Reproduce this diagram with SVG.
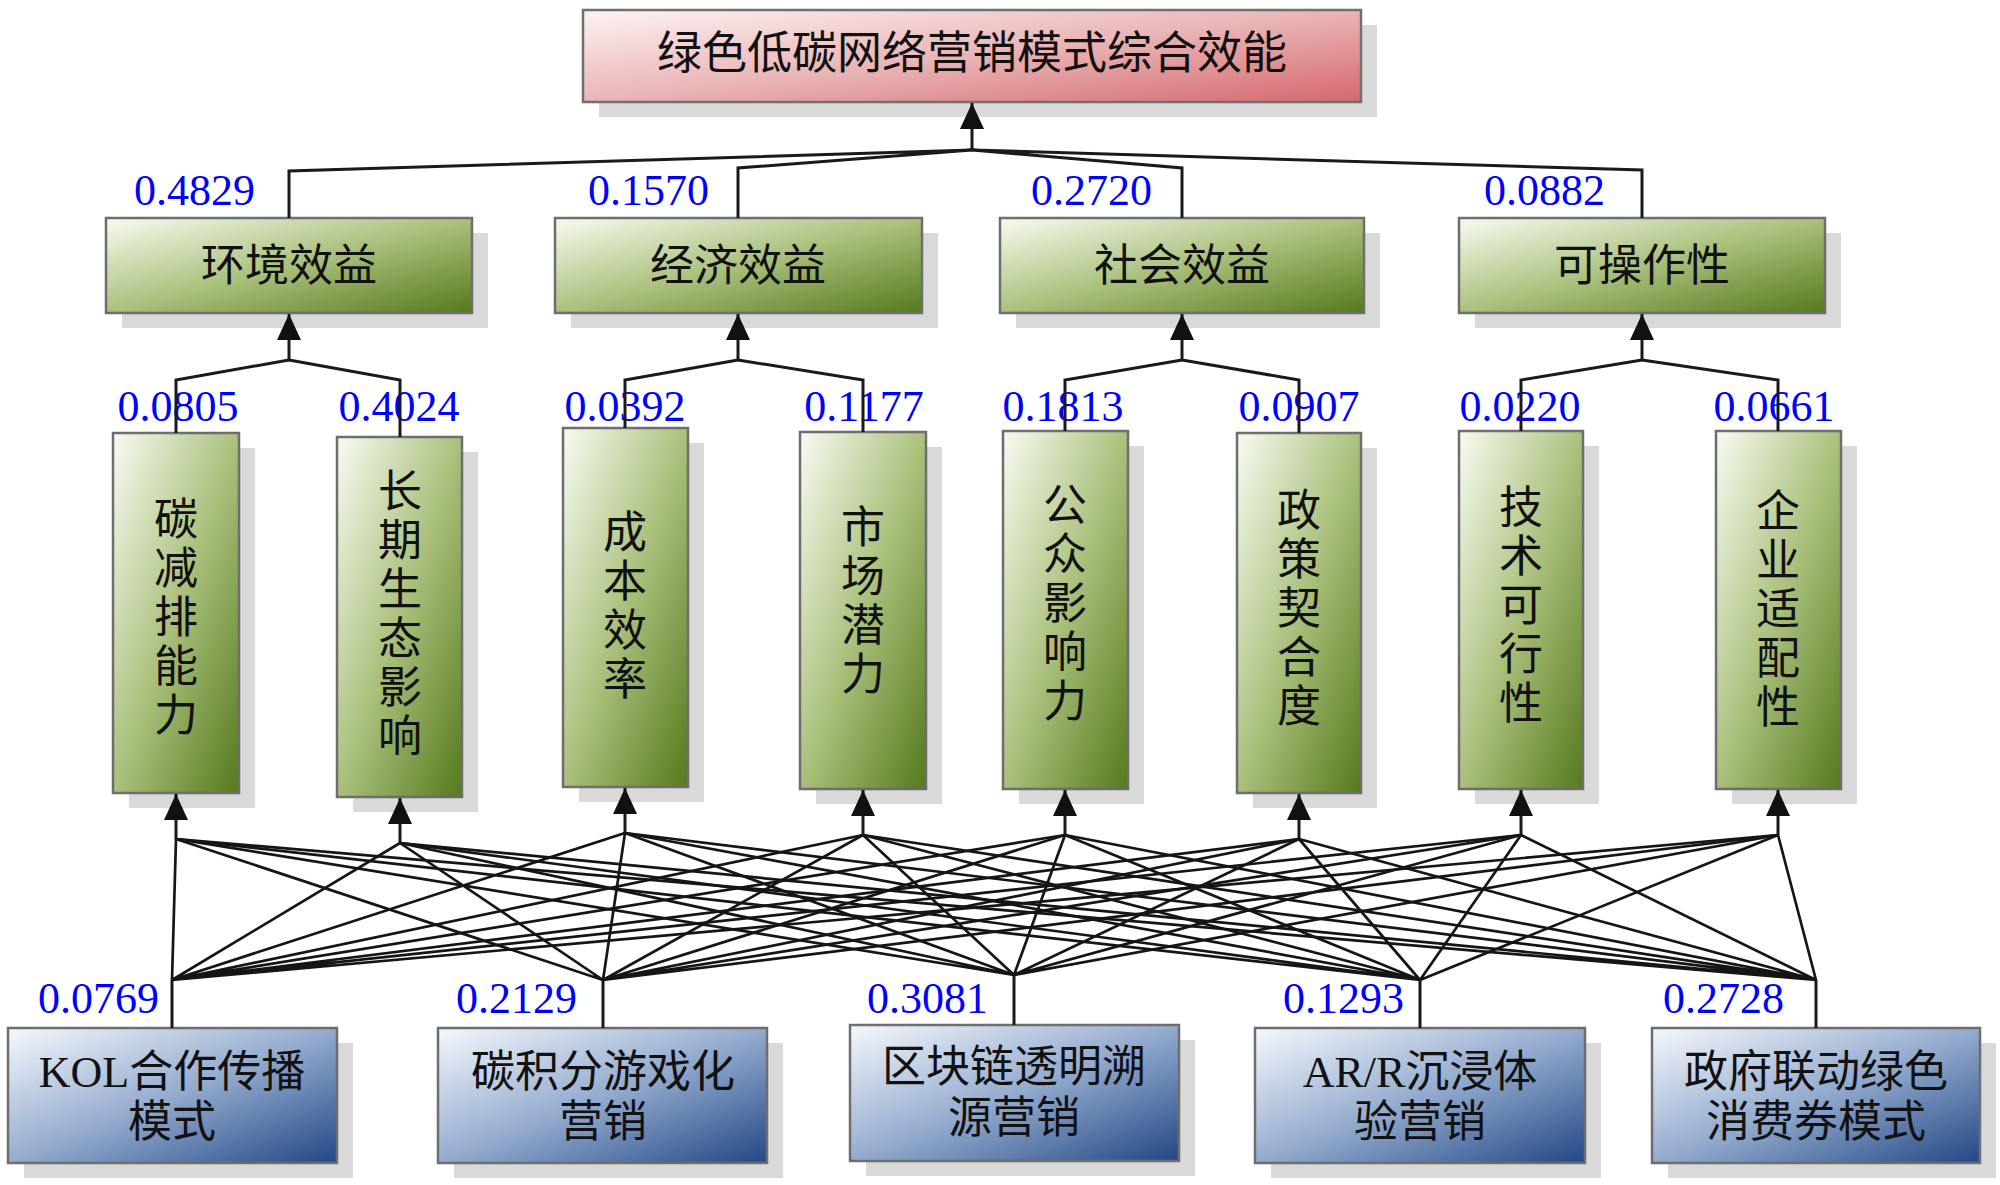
<svg xmlns="http://www.w3.org/2000/svg" width="2000" height="1185" viewBox="0 0 2000 1185">
<defs>
<linearGradient id="gRed" x1="0" y1="0" x2="1" y2="1">
<stop offset="0" stop-color="#fdf3f3"/><stop offset="0.5" stop-color="#eab4b5"/><stop offset="1" stop-color="#d4686d"/>
</linearGradient>
<linearGradient id="gGreen" x1="0" y1="0" x2="1" y2="1">
<stop offset="0" stop-color="#f8fbf2"/><stop offset="0.5" stop-color="#aac07c"/><stop offset="1" stop-color="#557a1c"/>
</linearGradient>
<linearGradient id="gBlue" x1="0" y1="0" x2="1" y2="1">
<stop offset="0" stop-color="#f5f8fc"/><stop offset="0.5" stop-color="#94abce"/><stop offset="1" stop-color="#234886"/>
</linearGradient>
<marker id="arr" markerUnits="userSpaceOnUse" markerWidth="28" markerHeight="24" refX="26" refY="12" orient="auto">
<path d="M0,0 L26,12 L0,24 z" fill="#111"/>
</marker>
</defs>
<style>
.sh{fill:#d9d9d9}
.red{fill:url(#gRed);stroke:#707070;stroke-width:2.5}
.grn{fill:url(#gGreen);stroke:#6e6e6e;stroke-width:2.5}
.blu{fill:url(#gBlue);stroke:#6e6e6e;stroke-width:2.5}
.t{font-family:"Liberation Serif","Noto Sans CJK SC",serif;font-size:44px;fill:#111;text-anchor:middle}
.num{font-family:"Liberation Serif",serif;font-size:44px;fill:#0000ff}
.c{fill:none;stroke:#1a1a1a;stroke-width:3;stroke-linejoin:miter}
.w{fill:none;stroke:#151515;stroke-width:2.7}
</style>
<rect width="2000" height="1185" fill="#ffffff"/>

<!-- Top node -->
<g id="goal">
<rect class="sh" x="599" y="25" width="778" height="92"/>
<rect class="red" x="583" y="10" width="778" height="92"/>
<text class="t" x="972" y="69" style="font-size:45px">绿色低碳网络营销模式综合效能</text>
</g>

<!-- Criteria -->
<g id="c1">
<rect class="sh" x="122" y="233" width="366" height="95"/>
<rect class="grn" x="106" y="218" width="366" height="95"/>
<text class="t" x="289" y="281">环境效益</text>
<text class="num" x="255" y="205" text-anchor="end">0.4829</text>
</g>
<g id="c2">
<rect class="sh" x="571" y="233" width="367" height="95"/>
<rect class="grn" x="555" y="218" width="367" height="95"/>
<text class="t" x="738" y="281">经济效益</text>
<text class="num" x="709" y="205" text-anchor="end">0.1570</text>
</g>
<g id="c3">
<rect class="sh" x="1016" y="233" width="364" height="95"/>
<rect class="grn" x="1000" y="218" width="364" height="95"/>
<text class="t" x="1182" y="281">社会效益</text>
<text class="num" x="1152" y="205" text-anchor="end">0.2720</text>
</g>
<g id="c4">
<rect class="sh" x="1475" y="233" width="366" height="95"/>
<rect class="grn" x="1459" y="218" width="366" height="95"/>
<text class="t" x="1642" y="281">可操作性</text>
<text class="num" x="1605" y="205" text-anchor="end">0.0882</text>
</g>

<!-- Sub-criteria -->
<g id="s1">
<rect class="sh" x="129" y="448" width="126" height="360"/>
<rect class="grn" x="113" y="433" width="126" height="360"/>
<text class="t"><tspan x="176" y="535">碳</tspan><tspan x="176" y="584">减</tspan><tspan x="176" y="633">排</tspan><tspan x="176" y="682">能</tspan><tspan x="176" y="731">力</tspan></text>
<text class="num" x="178" y="421" text-anchor="middle">0.0805</text>
</g>
<g id="s2">
<rect class="sh" x="353" y="452" width="125" height="360"/>
<rect class="grn" x="337" y="437" width="125" height="360"/>
<text class="t"><tspan x="400" y="507">长</tspan><tspan x="400" y="556">期</tspan><tspan x="400" y="605">生</tspan><tspan x="400" y="654">态</tspan><tspan x="400" y="703">影</tspan><tspan x="400" y="752">响</tspan></text>
<text class="num" x="399" y="421" text-anchor="middle">0.4024</text>
</g>
<g id="s3">
<rect class="sh" x="579" y="443" width="125" height="359"/>
<rect class="grn" x="563" y="428" width="125" height="359"/>
<text class="t"><tspan x="625" y="548">成</tspan><tspan x="625" y="597">本</tspan><tspan x="625" y="646">效</tspan><tspan x="625" y="695">率</tspan></text>
<text class="num" x="625" y="421" text-anchor="middle">0.0392</text>
</g>
<g id="s4">
<rect class="sh" x="816" y="447" width="126" height="357"/>
<rect class="grn" x="800" y="432" width="126" height="357"/>
<text class="t"><tspan x="863" y="543">市</tspan><tspan x="863" y="592">场</tspan><tspan x="863" y="641">潜</tspan><tspan x="863" y="690">力</tspan></text>
<text class="num" x="864" y="421" text-anchor="middle">0.1177</text>
</g>
<g id="s5">
<rect class="sh" x="1019" y="446" width="125" height="358"/>
<rect class="grn" x="1003" y="431" width="125" height="358"/>
<text class="t"><tspan x="1065" y="521">公</tspan><tspan x="1065" y="570">众</tspan><tspan x="1065" y="619">影</tspan><tspan x="1065" y="668">响</tspan><tspan x="1065" y="717">力</tspan></text>
<text class="num" x="1063" y="421" text-anchor="middle">0.1813</text>
</g>
<g id="s6">
<rect class="sh" x="1253" y="448" width="124" height="360"/>
<rect class="grn" x="1237" y="433" width="124" height="360"/>
<text class="t"><tspan x="1299" y="526">政</tspan><tspan x="1299" y="575">策</tspan><tspan x="1299" y="624">契</tspan><tspan x="1299" y="673">合</tspan><tspan x="1299" y="722">度</tspan></text>
<text class="num" x="1299" y="421" text-anchor="middle">0.0907</text>
</g>
<g id="s7">
<rect class="sh" x="1475" y="446" width="124" height="358"/>
<rect class="grn" x="1459" y="431" width="124" height="358"/>
<text class="t"><tspan x="1521" y="523">技</tspan><tspan x="1521" y="572">术</tspan><tspan x="1521" y="621">可</tspan><tspan x="1521" y="670">行</tspan><tspan x="1521" y="719">性</tspan></text>
<text class="num" x="1520" y="421" text-anchor="middle">0.0220</text>
</g>
<g id="s8">
<rect class="sh" x="1732" y="446" width="125" height="358"/>
<rect class="grn" x="1716" y="431" width="125" height="358"/>
<text class="t"><tspan x="1778" y="527">企</tspan><tspan x="1778" y="576">业</tspan><tspan x="1778" y="625">适</tspan><tspan x="1778" y="674">配</tspan><tspan x="1778" y="723">性</tspan></text>
<text class="num" x="1774" y="421" text-anchor="middle">0.0661</text>
</g>

<!-- Alternatives -->
<g id="a1">
<rect class="sh" x="24" y="1043" width="329" height="135"/>
<rect class="blu" x="8" y="1028" width="329" height="135"/>
<text class="t" x="172" y="1087">KOL合作传播</text>
<text class="t" x="172" y="1137">模式</text>
<text class="num" x="159" y="1013" text-anchor="end">0.0769</text>
</g>
<g id="a2">
<rect class="sh" x="454" y="1043" width="329" height="135"/>
<rect class="blu" x="438" y="1028" width="329" height="135"/>
<text class="t" x="603" y="1087">碳积分游戏化</text>
<text class="t" x="603" y="1137">营销</text>
<text class="num" x="577" y="1013" text-anchor="end">0.2129</text>
</g>
<g id="a3">
<rect class="sh" x="866" y="1040" width="329" height="136"/>
<rect class="blu" x="850" y="1025" width="329" height="136"/>
<text class="t" x="1014" y="1082">区块链透明溯</text>
<text class="t" x="1014" y="1133">源营销</text>
<text class="num" x="988" y="1013" text-anchor="end">0.3081</text>
</g>
<g id="a4">
<rect class="sh" x="1271" y="1043" width="330" height="135"/>
<rect class="blu" x="1255" y="1028" width="330" height="135"/>
<text class="t" x="1420" y="1087">AR/R沉浸体</text>
<text class="t" x="1420" y="1137">验营销</text>
<text class="num" x="1404" y="1013" text-anchor="end">0.1293</text>
</g>
<g id="a5">
<rect class="sh" x="1668" y="1043" width="328" height="135"/>
<rect class="blu" x="1652" y="1028" width="328" height="135"/>
<text class="t" x="1816" y="1087">政府联动绿色</text>
<text class="t" x="1816" y="1137">消费券模式</text>
<text class="num" x="1784" y="1013" text-anchor="end">0.2728</text>
</g>

<!-- Connectors -->
<g id="connectors">
<path class="c" d="M972,150 L972,103" marker-end="url(#arr)"/>
<path class="c" d="M972,150 L289,171 L289,218 M972,150 L738,168 L738,218 M972,150 L1182,168 L1182,218 M972,150 L1642,170 L1642,218"/>

<path class="c" d="M289,360 L289,314" marker-end="url(#arr)"/>
<path class="c" d="M738,360 L738,314" marker-end="url(#arr)"/>
<path class="c" d="M1182,360 L1182,314" marker-end="url(#arr)"/>
<path class="c" d="M1642,360 L1642,314" marker-end="url(#arr)"/>
<path class="c" d="M289,360 L176,380 L176,433 M289,360 L400,380 L400,437 M738,360 L625,380 L625,428 M738,360 L863,380 L863,432 M1182,360 L1065,380 L1065,431 M1182,360 L1299,380 L1299,433 M1642,360 L1521,380 L1521,431 M1642,360 L1778,380 L1778,431"/>

<path class="c" d="M176,839 L176,794" marker-end="url(#arr)"/>
<path class="c" d="M400,843 L400,798" marker-end="url(#arr)"/>
<path class="c" d="M625,833 L625,788" marker-end="url(#arr)"/>
<path class="c" d="M863,835 L863,790" marker-end="url(#arr)"/>
<path class="c" d="M1065,835 L1065,790" marker-end="url(#arr)"/>
<path class="c" d="M1299,839 L1299,794" marker-end="url(#arr)"/>
<path class="c" d="M1521,835 L1521,790" marker-end="url(#arr)"/>
<path class="c" d="M1778,835 L1778,790" marker-end="url(#arr)"/>

<path class="c" d="M172,1028 L172,980 M603,1028 L603,980 M1014,1025 L1014,975 M1420,1028 L1420,980 M1816,1028 L1816,980"/>

<path class="w" d="M172,980 L176,839 M172,980 L400,843 M172,980 L625,833 M172,980 L863,835 M172,980 L1065,835 M172,980 L1299,839 M172,980 L1521,835 M172,980 L1778,835"/>
<path class="w" d="M603,980 L176,839 M603,980 L400,843 M603,980 L625,833 M603,980 L863,835 M603,980 L1065,835 M603,980 L1299,839 M603,980 L1521,835 M603,980 L1778,835"/>
<path class="w" d="M1014,975 L176,839 M1014,975 L400,843 M1014,975 L625,833 M1014,975 L863,835 M1014,975 L1065,835 M1014,975 L1299,839 M1014,975 L1521,835 M1014,975 L1778,835"/>
<path class="w" d="M1420,980 L176,839 M1420,980 L400,843 M1420,980 L625,833 M1420,980 L863,835 M1420,980 L1065,835 M1420,980 L1299,839 M1420,980 L1521,835 M1420,980 L1778,835"/>
<path class="w" d="M1816,980 L176,839 M1816,980 L400,843 M1816,980 L625,833 M1816,980 L863,835 M1816,980 L1065,835 M1816,980 L1299,839 M1816,980 L1521,835 M1816,980 L1778,835"/>
</g>
</svg>
